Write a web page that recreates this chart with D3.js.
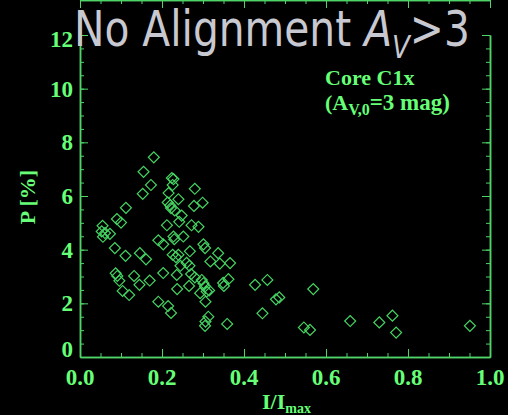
<!DOCTYPE html>
<html>
<head>
<meta charset="utf-8">
<script src="https://cdn.jsdelivr.net/npm/d3@7"></script>
<style>
body{margin:0;background:#000;}
</style>
</head>
<body>
<script>
var width = 508, height = 415;
var margin = {top:35, right:18, bottom:58, left:80};

// I/Imax, P[%]
var points = [
[0.180,7.44],[0.155,6.90],[0.173,6.41],[0.153,6.08],[0.224,6.67],[0.228,6.63],[0.226,6.41],[0.216,6.11],
[0.280,6.27],[0.299,5.75],[0.278,5.63],[0.240,5.88],[0.214,5.76],[0.220,5.65],[0.222,5.55],[0.231,5.46],
[0.248,5.27],[0.242,5.04],[0.212,4.91],[0.272,4.91],[0.289,4.85],[0.112,5.56],[0.090,5.14],[0.100,5.01],
[0.055,4.89],[0.053,4.68],[0.061,4.62],[0.073,4.59],[0.056,4.48],[0.191,4.35],[0.203,4.20],[0.228,4.49],
[0.230,4.39],[0.252,4.49],[0.085,4.06],[0.111,3.77],[0.146,3.87],[0.161,3.64],[0.226,3.81],[0.240,3.81],
[0.234,3.72],[0.268,3.94],[0.301,4.20],[0.305,4.06],[0.337,3.87],[0.318,3.56],[0.341,3.48],[0.366,3.50],
[0.245,3.40],[0.260,3.51],[0.267,3.40],[0.087,3.12],[0.091,3.02],[0.096,2.84],[0.132,3.02],[0.170,2.85],
[0.145,2.69],[0.104,2.46],[0.120,2.31],[0.203,3.13],[0.236,3.06],[0.271,3.09],[0.280,2.97],[0.297,2.87],
[0.301,2.75],[0.305,2.63],[0.266,2.65],[0.237,2.53],[0.349,2.76],[0.351,2.65],[0.362,2.90],[0.293,2.38],
[0.309,2.44],[0.315,2.48],[0.306,2.06],[0.191,2.06],[0.215,1.90],[0.222,1.64],[0.313,1.50],[0.306,1.32],
[0.305,1.16],[0.359,1.23],[0.427,2.69],[0.457,2.87],[0.569,2.53],[0.478,2.15],[0.486,2.22],[0.445,1.63],
[0.546,1.10],[0.561,1.01],[0.659,1.34],[0.730,1.29],[0.762,1.54],[0.771,0.91],[0.951,1.16]
];

var xMajor = [0,0.2,0.4,0.6,0.8,1.0];
var yMajor = [0,2,4,6,8,10,12];
var xMinor = d3.range(0,1.0001,0.05);
var yMinor = d3.range(0,12.001,0.5);

var axisCol = "#4fd468", textCol = "#66ff77", markCol = "#45d462";

var svg = d3.select("body").append("svg")
.attr("width",width)
.attr("height",height)
.style("background","#000");

var x = d3.scaleLinear().domain([0,1]).range([margin.left, width - margin.right]);
var y = d3.scaleLinear().domain([0,12]).range([height - margin.bottom, margin.top]);

function drawAxis(gen, tr, vals, size){
	var g = svg.append("g")
	.attr("transform",tr)
	.call(gen.tickValues(vals).tickSize(size).tickSizeOuter(0).tickFormat(""));
	g.selectAll("line").attr("stroke",axisCol);
	g.select(".domain").attr("stroke",axisCol).attr("stroke-width",1.5);
	return g;
}

var bot = "translate(0," + y(0) + ")", top = "translate(0," + y(12) + ")";
var lef = "translate(" + x(0) + ",0)", rig = "translate(" + x(1) + ",0)";

drawAxis(d3.axisTop(x), bot, xMinor, 4);
drawAxis(d3.axisTop(x), bot, xMajor, 8);
drawAxis(d3.axisBottom(x), top, xMinor, 4);
drawAxis(d3.axisBottom(x), top, xMajor, 8);
drawAxis(d3.axisRight(y), lef, yMinor, 4);
drawAxis(d3.axisRight(y), lef, yMajor, 8);
drawAxis(d3.axisLeft(y), rig, yMinor, 4);
drawAxis(d3.axisLeft(y), rig, yMajor, 8);

var labFont = "'Liberation Serif','Times New Roman',serif";

svg.append("g").selectAll("text")
.data(xMajor).enter().append("text")
.attr("x",function(d){return x(d);})
.attr("y",385)
.attr("text-anchor","middle")
.attr("font-family",labFont).attr("font-weight","bold").attr("font-size",23)
.attr("fill",textCol)
.text(function(d){return d3.format(".1f")(d);});

svg.append("g").selectAll("text")
.data(yMajor).enter().append("text")
.attr("x",x(0) - 7)
.attr("y",function(d){ return d == 0 ? y(d) : (d == 12 ? y(d) + 12 : y(d) + 8); })
.attr("text-anchor","end")
.attr("font-family",labFont).attr("font-weight","bold").attr("font-size",23)
.attr("fill",textCol)
.text(function(d){return d;});

// axis titles
var xl = svg.append("text")
.attr("x",262).attr("y",409)
.attr("font-family",labFont).attr("font-weight","bold").attr("font-size",22)
.attr("fill",textCol);
xl.append("tspan").text("I/I");
xl.append("tspan").attr("font-size",14).attr("dy",4).text("max");

svg.append("text")
.attr("transform","translate(35,197) rotate(-90)")
.attr("text-anchor","middle")
.attr("font-family",labFont).attr("font-weight","bold").attr("font-size",22)
.attr("fill",textCol)
.text("P [%]");

// points
svg.append("g").selectAll("path")
.data(points).enter().append("path")
.attr("transform",function(d){return "translate(" + x(d[0]) + "," + y(d[1]) + ") rotate(45)";})
.attr("d",d3.symbol().type(d3.symbolSquare).size(60))
.attr("fill","none")
.attr("stroke",markCol)
.attr("stroke-width",1.2);

// annotation
svg.append("text")
.attr("x",325).attr("y",85)
.attr("font-family",labFont).attr("font-weight","bold").attr("font-size",22)
.attr("fill",textCol)
.text("Core C1x");

var a2 = svg.append("text")
.attr("x",325).attr("y",110)
.attr("font-family",labFont).attr("font-weight","bold").attr("font-size",22)
.attr("fill",textCol);
a2.append("tspan").text("(A");
a2.append("tspan").attr("font-size",16).attr("dy",5).text("V,0");
a2.append("tspan").attr("dy",-5).attr("font-size",23).text("=3 mag)");

// title
var t = svg.append("text")
.attr("x",0).attr("y",0)
.attr("font-family","'DejaVu Sans',sans-serif").attr("font-size",50)
.attr("fill","#c8c8d0");
t.append("tspan").text("No Alignment ");
t.append("tspan").attr("font-style","italic").text("A");
t.append("tspan").attr("font-size",32).attr("font-style","italic").attr("dy",12).text("V");
t.append("tspan").attr("dy",-12).text(">3");
var tw = t.node().getBBox().width;
t.attr("transform","translate(74,46) scale(" + (396 / tw) + ",1)");
</script>
</body>
</html>
